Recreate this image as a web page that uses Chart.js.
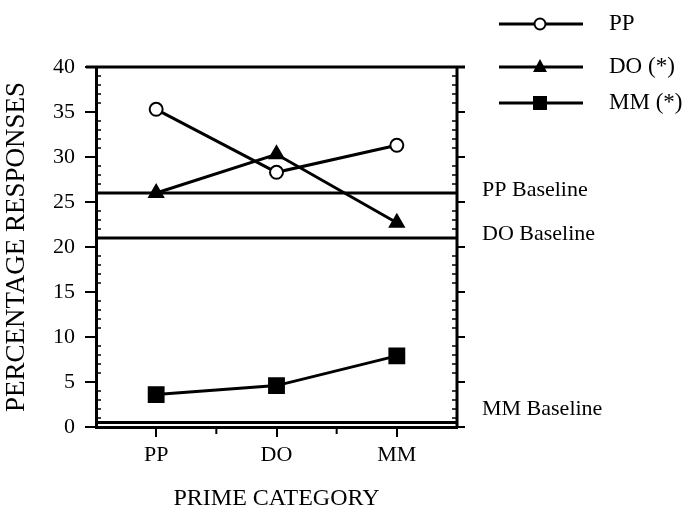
<!DOCTYPE html>
<html><head><meta charset="utf-8">
<script src="https://cdn.jsdelivr.net/npm/chart.js@4/dist/chart.umd.min.js"></script>
<style>html,body{margin:0;padding:0;background:#fff}#wrap{width:688px;height:507px}</style>
</head><body><div id="wrap"><canvas id="c" width="688" height="507"></canvas></div>
<script>
const categories = ["PP", "DO", "MM"];
const seriesNames = ["PP", "DO (*)", "MM (*)"];
const ppValues = [35.3, 28.3, 31.3];
const doValues = [26.0, 30.3, 22.7];
const mmValues = [3.6, 4.6, 7.9];
const baselineNames = ["PP Baseline", "DO Baseline", "MM Baseline"];
const baselineValues = [26.0, 21.0, 0.5];
const yTicks = [0, 5, 10, 15, 20, 25, 30, 35, 40];

const FONT = "'Liberation Serif', 'DejaVu Serif', serif";
const styles = [
  {pointStyle: 'circle', radius: 6.5, bg: '#fff'},
  {pointStyle: 'triangle', radius: 8, bg: '#000'},
  {pointStyle: 'rect', radius: 10.5, bg: '#000'}
];

const extras = {
  id: 'extras',
  afterDraw(chart) {
    const {ctx, chartArea: a, scales} = chart;
    const y = scales.y, x = scales.x;
    ctx.save();
    ctx.strokeStyle = '#000';
    ctx.fillStyle = '#000';
    // frame top and right
    ctx.lineWidth = 3;
    ctx.beginPath();
    ctx.moveTo(a.left - 10, a.top); ctx.lineTo(a.right + 8, a.top);
    ctx.moveTo(a.right, a.top); ctx.lineTo(a.right, a.bottom);
    ctx.stroke();
    // right major ticks
    ctx.lineWidth = 2;
    ctx.beginPath();
    yTicks.forEach(v => { const py = y.getPixelForValue(v); ctx.moveTo(a.right, py); ctx.lineTo(a.right + 8, py); });
    ctx.stroke();
    // minor ticks inside left and right
    ctx.lineWidth = 1.5;
    ctx.beginPath();
    for (let v = 1; v < 40; v++) {
      if (v % 5 === 0) continue;
      const py = y.getPixelForValue(v);
      ctx.moveTo(a.left, py); ctx.lineTo(a.left + 5, py);
      ctx.moveTo(a.right, py); ctx.lineTo(a.right - 5, py);
    }
    ctx.stroke();
    // x minor ticks at category boundaries
    ctx.lineWidth = 2;
    ctx.beginPath();
    for (let i = 0; i < categories.length - 1; i++) {
      const px = (x.getPixelForValue(i) + x.getPixelForValue(i + 1)) / 2;
      ctx.moveTo(px, a.bottom); ctx.lineTo(px, a.bottom + 7);
    }
    ctx.stroke();
    // baselines
    ctx.lineWidth = 3;
    ctx.font = "22px " + FONT;
    ctx.textBaseline = 'middle';
    ctx.textAlign = 'left';
    const labelOffsets = [-3, -4, -13];
    baselineValues.forEach((v, i) => {
      const py = y.getPixelForValue(v);
      ctx.beginPath(); ctx.moveTo(a.left, py); ctx.lineTo(a.right, py); ctx.stroke();
      ctx.fillText(baselineNames[i], a.right + 25, py + labelOffsets[i]);
    });
    // legend
    const rows = [24, 67, 103];
    ctx.font = "23px " + FONT;
    seriesNames.forEach((n, i) => {
      const ly = rows[i];
      ctx.lineWidth = 3;
      ctx.strokeStyle = '#000';
      ctx.beginPath(); ctx.moveTo(499, ly); ctx.lineTo(583, ly); ctx.stroke();
      const s = styles[i];
      ctx.fillStyle = s.bg; ctx.lineWidth = 2;
      ctx.beginPath();
      if (s.pointStyle === 'circle') { ctx.arc(540, ly, 5.5, 0, Math.PI * 2); ctx.fill(); ctx.stroke(); }
      else if (s.pointStyle === 'triangle') { ctx.moveTo(540, ly - 8); ctx.lineTo(547, ly + 5); ctx.lineTo(533, ly + 5); ctx.closePath(); ctx.fill(); }
      else { ctx.rect(533, ly - 7, 14, 14); ctx.fill(); }
      ctx.fillStyle = '#000';
      ctx.fillText(n, 609, ly);
    });
    ctx.restore();
  }
};

function ds(label, data, s) {
  return {
    label, data,
    borderColor: '#000', borderWidth: 3,
    pointStyle: s.pointStyle, pointRadius: s.radius, pointHoverRadius: s.radius,
    pointBackgroundColor: s.bg, pointBorderColor: '#000', pointBorderWidth: 2,
    tension: 0, fill: false
  };
}

new Chart(document.getElementById('c'), {
  type: 'line',
  data: {
    labels: categories,
    datasets: [
      ds(seriesNames[0], ppValues, styles[0]),
      ds(seriesNames[1], doValues, styles[1]),
      ds(seriesNames[2], mmValues, styles[2])
    ]
  },
  options: {
    responsive: false, animation: false,
    layout: {padding: {top: 67, right: 231, left: 0, bottom: -4}},
    plugins: {legend: {display: false}, tooltip: {enabled: false}},
    scales: {
      x: {
        offset: true,
        grid: {display: true, drawOnChartArea: false, offset: false, color: '#000', lineWidth: 2, tickLength: 10},
        border: {display: true, color: '#000', width: 3},
        ticks: {color: '#000', font: {family: FONT, size: 22, lineHeight: 1}, padding: 7},
        title: {display: true, text: 'PRIME CATEGORY', color: '#000', font: {family: FONT, size: 24, lineHeight: 1}, padding: {top: 14, bottom: 0}}
      },
      y: {
        min: 0, max: 40,
        afterBuildTicks: (s) => { s.ticks = yTicks.map(v => ({value: v})); },
        grid: {display: true, drawOnChartArea: false, color: '#000', lineWidth: 2, tickLength: 11},
        border: {display: true, color: '#000', width: 3},
        ticks: {color: '#000', font: {family: FONT, size: 22}, padding: 10},
        title: {display: true, text: 'PERCENTAGE RESPONSES', color: '#000', font: {family: FONT, size: 27, lineHeight: 1}, padding: {top: 3, bottom: 13}}
      }
    }
  },
  plugins: [extras]
});
</script>
</body></html>
